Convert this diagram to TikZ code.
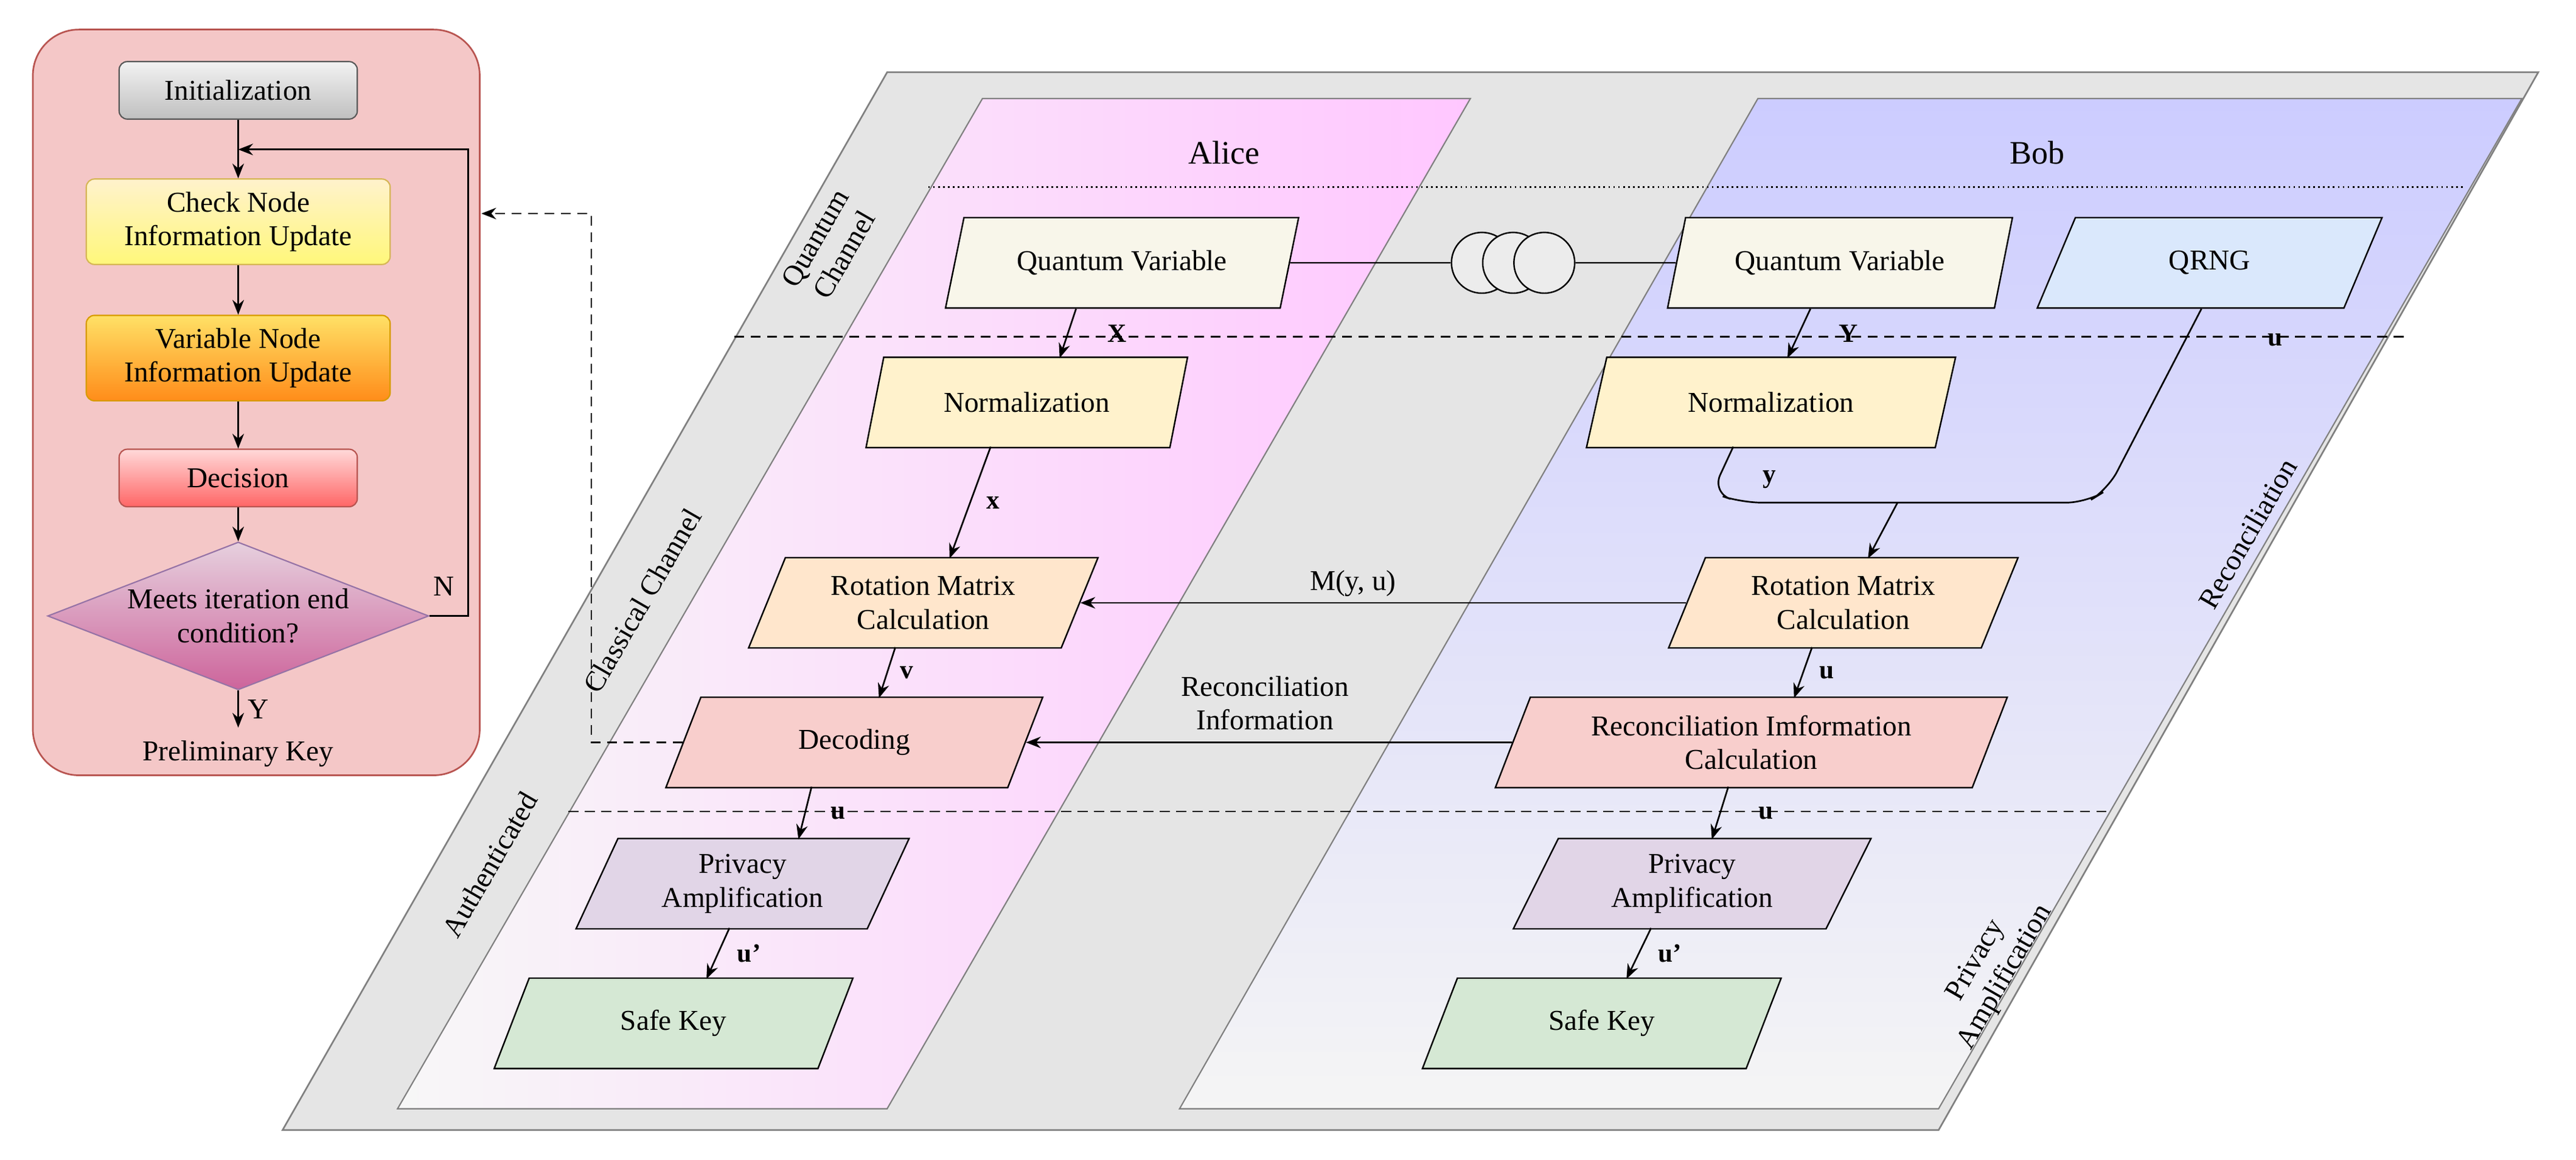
\documentclass[tikz,border=0pt]{standalone}
\usepackage{fontspec}
\setmainfont{Liberation Serif}
\usetikzlibrary{shapes.geometric,arrows.meta,calc}
\definecolor{cream}{HTML}{F8F6EA}
\definecolor{ylw}{HTML}{FFF2CC}
\definecolor{org}{HTML}{FFE6CC}
\definecolor{rd}{HTML}{F8CECC}
\definecolor{prp}{HTML}{E1D5E7}
\definecolor{grn}{HTML}{D5E8D4}
\definecolor{blu}{HTML}{DAE8FC}
\begin{document}
\begin{tikzpicture}[x=1pt,y=-1pt,font=\fontsize{17.5}{20.5}\selectfont,
 pg/.style={trapezium,trapezium left angle=66,trapezium right angle=114,trapezium stretches=true,draw,line width=0.9pt,minimum height=55,align=center,inner sep=1pt},
 ar/.style={-{Stealth[length=9,width=7]},line width=1pt},
 lb/.style={font=\fontsize{16}{19}\selectfont\bfseries},
 dsh/.style={dash pattern=on 6pt off 4pt,line width=1pt},
 fc/.style={draw,rounded corners=5,line width=0.8pt,align=center}]
\useasboundingbox (0,0) rectangle (1568,706);
% panels
\draw[gray,fill=gray!20,line width=1pt] (172,688)--(540,44)--(1545,44)--(1180,688)--cycle;
\shade[left color=gray!6,right color=magenta!22,draw=gray,line width=0.8pt] (242,675)--(598,60)--(895,60)--(540,675)--cycle;
\shade[top color=blue!20,bottom color=gray!8,draw=gray,line width=0.8pt] (718,675)--(1070,60)--(1535,60)--(1180,675)--cycle;
\draw[dotted,line width=1pt] (565,114)--(1500,114);
\draw[dsh] (447,205)--(1465,205);
\draw[dsh] (346,494)--(1282,494);
\node at (745,93) {\fontsize{20}{24}\selectfont Alice};
\node at (1240,93) {\fontsize{20}{24}\selectfont Bob};
\node[rotate=60,align=center] at (505,150) {Quantum\\Channel};
\node[rotate=60,align=center] at (348,440) {Authenticated\hspace{4.2em}Classical Channel};
\node[rotate=60] at (1368,325) {Reconciliation};
\node[rotate=60,align=center] at (1212,590) {Privacy\\Amplification};
% Alice
\node[pg,fill=cream,minimum width=215] (qa) at (683,160) {Quantum Variable};
\node[pg,fill=ylw,minimum width=196] (na) at (625,245) {Normalization};
\node[pg,fill=org,minimum width=213] (ra) at (562,367) {Rotation Matrix\\Calculation};
\node[pg,fill=rd,minimum width=230] (da) at (520,452) {Decoding};
\node[pg,fill=prp,minimum width=203] (pa) at (452,538) {Privacy\\Amplification};
\node[pg,fill=grn,minimum width=220] (sa) at (410,623) {Safe Key};
% Bob
\node[pg,fill=cream,minimum width=210] (qb) at (1120,160) {Quantum Variable};
\node[pg,fill=blu,minimum width=210] (qr) at (1345,160) {QRNG};
\node[pg,fill=ylw,minimum width=225] (nb) at (1078,245) {Normalization};
\node[pg,fill=org,minimum width=213] (rb) at (1122,367) {Rotation Matrix\\Calculation};
\node[pg,fill=rd,minimum width=312] (cb) at (1066,452) {Reconciliation Imformation\\Calculation};
\node[pg,fill=prp,minimum width=218] (pb) at (1030,538) {Privacy\\Amplification};
\node[pg,fill=grn,minimum width=220] (sb) at (975,623) {Safe Key};
% quantum channel
\foreach \i/\xx in {c1/902,c2/921,c3/940}{\node[circle,draw,fill=gray!15,line width=0.9pt,minimum size=37,inner sep=0] (\i) at (\xx,160) {};}
\draw[line width=0.8pt] (qa.east)--(c1.west);
\draw[line width=0.8pt] (c3.east)--(qb.west);
% Alice arrows
\coordinate (a0) at (655,188); \coordinate (a00) at (645,218);
\draw[ar] (a0)--(a00);
\node[lb] at (680,203) {X};
\coordinate (a1) at (603,272); \coordinate (a2) at (578,340);
\draw[ar] (a1)--(a2) node[midway,right,lb,xshift=6]{x};
\coordinate (a3) at (545,394); \coordinate (a4) at (535,425);
\draw[ar] (a3)--(a4) node[midway,right,lb,xshift=4]{v};
\coordinate (a5) at (494,479); \coordinate (a6) at (486,511);
\draw[ar] (a5)--(a6);
\node[lb] at (510,495) {u};
\coordinate (a7) at (444,565); \coordinate (a8) at (430,596);
\draw[ar] (a7)--(a8) node[midway,right,lb,xshift=8]{u'};
% Bob arrows
\coordinate (b1) at (1102,188); \coordinate (b2) at (1088,218);
\draw[ar] (b1)--(b2);
\node[lb] at (1125,203) {Y};
\node[lb] at (1385,207) {u};
\draw[line width=1pt,rounded corners=12] (1055,272)--(1042,300)--(1060,306)--(1270,306)--(1283,298)--(1340,188);
\node[lb] at (1077,292) {y};
\coordinate (b3) at (1155,306); \coordinate (b4) at (1137,340);
\draw[ar] (b3)--(b4);
\coordinate (b5) at (1103,394); \coordinate (b6) at (1092,425);
\draw[ar] (b5)--(b6) node[midway,right,lb,xshift=6]{u};
\coordinate (b7) at (1052,479); \coordinate (b8) at (1042,511);
\draw[ar] (b7)--(b8);
\node[lb] at (1075,495) {u};
\coordinate (b9) at (1005,565); \coordinate (b10) at (990,596);
\draw[ar] (b9)--(b10) node[midway,right,lb,xshift=8]{u'};
% cross arrows
\draw[ar] (rb.west)--(ra.east) node[pos=0.55,above]{M(y, u)};
\draw[ar] (cb.west)--(da.east);
\node[align=center] at (770,428) {Reconciliation\\Information};
% left flowchart
\draw[draw={rgb,255:red,184;green,84;blue,80},fill={rgb,255:red,244;green,199;blue,199},rounded corners=28,line width=1pt] (20,18) rectangle (292,472);
\node[fc,top color=gray!10,bottom color=gray!50,draw=gray!70!black,minimum width=145,minimum height=35] (i) at (145,55) {Initialization};
\node[fc,top color=ylw,bottom color=yellow!40!ylw,draw={rgb,255:red,214;green,182;blue,86},minimum width=185,minimum height=52] (ck) at (145,135) {Check Node\\Information Update};
\node[fc,top color=orange!40!yellow!60,bottom color=orange!90,draw={rgb,255:red,215;green,155;blue,0},minimum width=185,minimum height=52] (vn) at (145,218) {Variable Node\\Information Update};
\node[fc,top color=red!15,bottom color=red!60!white,draw={rgb,255:red,184;green,84;blue,80},minimum width=145,minimum height=35] (de) at (145,291) {Decision};
\node[diamond,aspect=2.6,draw={rgb,255:red,150;green,115;blue,166},top color={rgb,255:red,230;green,208;blue,222},bottom color={rgb,255:red,205;green,100;blue,155},line width=0.8pt,minimum width=232,minimum height=90,inner sep=0,align=center] (dm) at (145,375) {Meets iteration end\\condition?};
\coordinate (jn) at (145,91);
\draw[line width=1pt] (i.south)--(jn);
\draw[ar] (jn)--(ck.north);
\draw[ar] (ck.south)--(vn.north);
\draw[ar] (vn.south)--(de.north);
\draw[ar] (de.south)--(dm.north);
\draw[ar] (dm.east)--(285,375)--(285,91)--(jn);
\node at (270,357) {N};
\coordinate (pk) at (145,443);
\draw[ar] (dm.south)--(pk) node[midway,right,xshift=2]{Y};
\node at (145,459) {Preliminary Key};
% dashed feedback
\coordinate (d1) at (360,452);
\draw[ar,dsh] (da.west)--(d1)--(360,130)--(293,130);
\end{tikzpicture}
\end{document}
